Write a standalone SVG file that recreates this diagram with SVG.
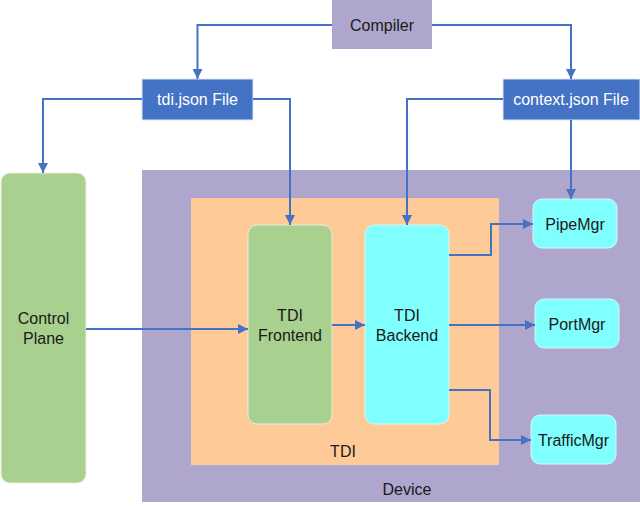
<svg xmlns="http://www.w3.org/2000/svg" width="640" height="507" viewBox="0 0 640 507">
<defs>
<style>
text{font-family:"Liberation Sans",Arial,sans-serif;font-size:16px;fill:#1a1a1a;text-anchor:middle;dominant-baseline:central}
.w{fill:#ffffff}
.file{fill:#4472c4;stroke:#dfe6f3;stroke-width:1}
.purple{fill:#aea6cd}
.green{fill:#a9d08e;stroke:#e6f0de;stroke-width:1}
.cyan{fill:#80ffff;stroke:#d8f7f7;stroke-width:1}
.tdi{fill:#fecb98}
.c{fill:none;stroke:#4472c4;stroke-width:2}
</style>
<marker id="a" viewBox="0 0 10 10" refX="10" refY="5" markerWidth="10" markerHeight="10" markerUnits="userSpaceOnUse" orient="auto">
<path d="M0,0 L10,5 L0,10 z" fill="#4472c4"/>
</marker>
</defs>
<g id="device">
<rect class="purple" x="142" y="170" width="498" height="332"/>
<text x="407" y="489">Device</text>
</g>
<g id="tdi">
<rect class="tdi" x="191" y="198" width="308" height="267"/>
<text x="343" y="451">TDI</text>
</g>
<g id="compiler">
<rect class="purple" x="332" y="0" width="100" height="49"/>
<text x="382" y="25">Compiler</text>
</g>
<g id="tdi-json">
<rect class="file" x="142" y="79" width="111" height="41"/>
<text class="w" x="197.5" y="99.5">tdi.json File</text>
</g>
<g id="context-json">
<rect class="file" x="503" y="79" width="137" height="41"/>
<text class="w" x="571" y="99.5">context.json File</text>
</g>
<g id="control-plane">
<rect class="green" x="1" y="173" width="85" height="310" rx="9"/>
<text x="43.5" y="318">Control</text>
<text x="43.5" y="338">Plane</text>
</g>
<g id="tdi-frontend">
<rect class="green" x="248" y="225" width="84" height="199" rx="9"/>
<text x="290" y="315">TDI</text>
<text x="290" y="335">Frontend</text>
</g>
<g id="tdi-backend">
<rect class="cyan" x="365" y="225" width="84" height="199" rx="9"/>
<text x="407" y="315">TDI</text>
<text x="407" y="335">Backend</text>
</g>
<g id="pipemgr">
<rect class="cyan" x="533" y="199" width="84" height="49" rx="9"/>
<text x="575" y="224">PipeMgr</text>
</g>
<g id="portmgr">
<rect class="cyan" x="535" y="299" width="84" height="49" rx="9"/>
<text x="577" y="324">PortMgr</text>
</g>
<g id="trafficmgr">
<rect class="cyan" x="531" y="415" width="85" height="49" rx="9"/>
<text x="573.5" y="440">TrafficMgr</text>
</g>
<g id="connectors">
<path class="c" d="M332,25 H197.5 V79" marker-end="url(#a)"/>
<path class="c" d="M432,25 H571 V79" marker-end="url(#a)"/>
<path class="c" d="M142,99 H43 V173" marker-end="url(#a)"/>
<path class="c" d="M253,99 H290 V225" marker-end="url(#a)"/>
<path class="c" d="M503,99 H407 V225" marker-end="url(#a)"/>
<path class="c" d="M571,120 V199" marker-end="url(#a)"/>
<path class="c" d="M86,329 H248" marker-end="url(#a)"/>
<path class="c" d="M332,325 H365" marker-end="url(#a)"/>
<path class="c" d="M449,325 H535" marker-end="url(#a)"/>
<path class="c" d="M449,255 H491 V224 H533" marker-end="url(#a)"/>
<path class="c" d="M449,390 H490 V440 H531" marker-end="url(#a)"/>
</g>
</svg>
